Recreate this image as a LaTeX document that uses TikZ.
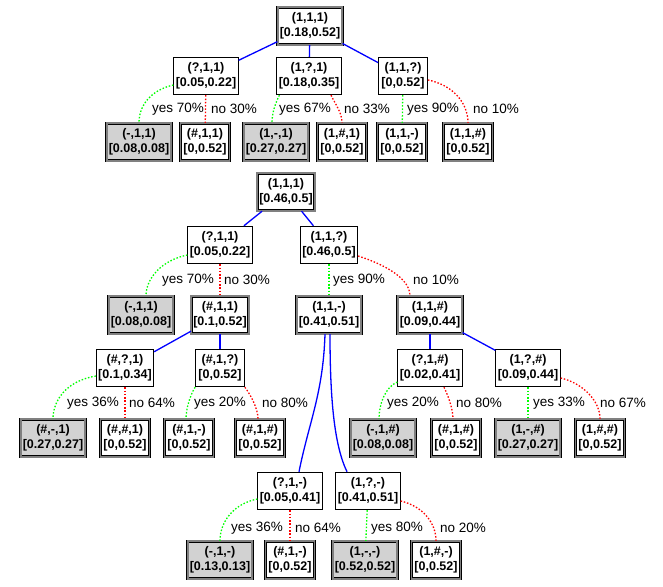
\documentclass[tikz,border=0pt]{standalone}
\usepackage{fontspec}
\setmainfont{Liberation Sans}

\begin{document}
\begin{tikzpicture}[%
    x=1pt, y=-1pt,
    qbox/.style={
      rectangle,
      draw=black,
      line width=0.8pt,
      fill=white,
      align=center,
      inner xsep=2pt,
      inner ysep=5.5pt,
      minimum width=49pt,
      font=\bfseries\fontsize{12.5}{15}\selectfont
    },
    leafbox/.style={
      qbox,
      line width=0.7pt,
      double=gray,
      double distance=1.8pt
    },
    hitbox/.style={
      leafbox,
      fill=gray!35
    },
    lbl/.style={
      anchor=west,
      inner sep=0pt,
      font=\fontsize{13.5}{15}\selectfont
    },
    tree/.style={
      draw=blue,
      line width=1.3pt
    },
    yes/.style={
      draw=green,
      line width=1.3pt,
      dash pattern=on 1.5pt off 1.8pt
    },
    no/.style={
      draw=red,
      line width=1.3pt,
      dash pattern=on 1.5pt off 1.8pt
    }
  ]
  \useasboundingbox (0,0) rectangle (663,586);

  % first tree
  \draw (310,26) node[leafbox] (r1) {(1,1,1)\\{}[0.18,0.52]};
  \draw (206,76) node[qbox] (a1) {(?,1,1)\\{}[0.05,0.22]};
  \draw (309,76) node[qbox] (a2) {(1,?,1)\\{}[0.18,0.35]};
  \draw (403,76) node[qbox] (a3) {(1,1,?)\\{}[0,0.52]};
  \draw (139,142) node[hitbox] (a11) {(-,1,1)\\{}[0.08,0.08]};
  \draw (205,142) node[leafbox] (a12) {(\#,1,1)\\{}[0,0.52]};
  \draw (276,142) node[hitbox] (a21) {(1,-,1)\\{}[0.27,0.27]};
  \draw (342,142) node[leafbox] (a22) {(1,\#,1)\\{}[0,0.52]};
  \draw (402,142) node[leafbox] (a31) {(1,1,-)\\{}[0,0.52]};
  \draw (468,142) node[leafbox] (a32) {(1,1,\#)\\{}[0,0.52]};

  \draw[tree] (r1) -- (a1);
  \draw[tree] (r1) -- (a2);
  \draw[tree] (r1) -- (a3);
  \draw[yes] ([yshift=-9pt]a1.west) .. controls +(-22,5) and +(0,-18) .. (a11.north);
  \draw[no] (a1) -- (a12);
  \draw[yes] ([xshift=3pt]a2.south west) .. controls +(-4,8) and +(0,-10) .. ([xshift=-4pt]a21.north);
  \draw[no] ([xshift=22pt]a2.south) .. controls +(5,10) and +(0,-10) .. (a22.north);
  \draw[yes] (a3) -- (a31);
  \draw[no] ([yshift=-4pt]a3.east) .. controls +(25,5) and +(0,-20) .. (a32.north);

  \node[lbl] (t1) at (152,109) {yes 70\%};
  \node[lbl] (t2) at (211,109) {no 30\%};
  \node[lbl] (t3) at (279,109) {yes 67\%};
  \node[lbl] (t4) at (344,109) {no 33\%};
  \node[lbl] (t5) at (407,109) {yes 90\%};
  \node[lbl] (t6) at (473,109) {no 10\%};

  % second tree
  \draw (286,192) node[leafbox] (r2) {(1,1,1)\\{}[0.46,0.5]};
  \draw (220,245) node[qbox] (b1) {(?,1,1)\\{}[0.05,0.22]};
  \draw (329,245) node[qbox] (b2) {(1,1,?)\\{}[0.46,0.5]};
  \draw (141,315) node[hitbox] (b11) {(-,1,1)\\{}[0.08,0.08]};
  \draw (220,315) node[leafbox] (b12) {(\#,1,1)\\{}[0.1,0.52]};
  \draw (329,315) node[leafbox] (b21) {(1,1,-)\\{}[0.41,0.51]};
  \draw (430,315) node[leafbox] (b22) {(1,1,\#)\\{}[0.09,0.44]};
  \draw (125,368) node[qbox] (c1) {(\#,?,1)\\{}[0.1,0.34]};
  \draw (220,368) node[qbox] (c2) {(\#,1,?)\\{}[0,0.52]};
  \draw (430,368) node[qbox] (c3) {(?,1,\#)\\{}[0.02,0.41]};
  \draw (528,368) node[qbox] (c4) {(1,?,\#)\\{}[0.09,0.44]};
  \draw (53,438) node[hitbox] (c11) {(\#,-,1)\\{}[0.27,0.27]};
  \draw (125,438) node[leafbox] (c12) {(\#,\#,1)\\{}[0,0.52]};
  \draw (189,438) node[leafbox] (c21) {(\#,1,-)\\{}[0,0.52]};
  \draw (260,438) node[leafbox] (c22) {(\#,1,\#)\\{}[0,0.52]};
  \draw (383,438) node[hitbox] (c31) {(-,1,\#)\\{}[0.08,0.08]};
  \draw (456,438) node[leafbox] (c32) {(\#,1,\#)\\{}[0,0.52]};
  \draw (528,438) node[hitbox] (c41) {(1,-,\#)\\{}[0.27,0.27]};
  \draw (600,438) node[leafbox] (c42) {(1,\#,\#)\\{}[0,0.52]};
  \draw (290,491) node[qbox] (d1) {(?,1,-)\\{}[0.05,0.41]};
  \draw (368,491) node[qbox] (d2) {(1,?,-)\\{}[0.41,0.51]};
  \draw (220,560) node[hitbox] (d11) {(-,1,-)\\{}[0.13,0.13]};
  \draw (290,560) node[leafbox] (d12) {(\#,1,-)\\{}[0,0.52]};
  \draw (365,560) node[hitbox] (d21) {(1,-,-)\\{}[0.52,0.52]};
  \draw (436,560) node[leafbox] (d22) {(1,\#,-)\\{}[0,0.52]};

  \draw[tree] (r2) -- (b1);
  \draw[tree] (r2) -- (b2);
  \draw[yes] ([yshift=-10pt]b1.west) .. controls +(-25,5) and +(0,-18) .. ([xshift=5pt]b11.north);
  \draw[no] (b1) -- (b12);
  \draw[yes] (b2) -- (b21);
  \draw[no] ([yshift=-11pt]b2.east) .. controls +(25,8) and +(0,-18) .. ([xshift=-20pt]b22.north);
  \draw[tree] (b12) -- (c1);
  \draw[tree] (b12) -- (c2);
  \draw[tree] (b22) -- (c3);
  \draw[tree] (b22) -- (c4);
  \draw[tree] ([xshift=-4pt]b21.south) .. controls +(-2,60) and +(10,-50) .. ([xshift=9pt]d1.north);
  \draw[tree] ([xshift=1pt]b21.south) .. controls +(0,70) and +(-12,-25) .. ([xshift=-21pt]d2.north);
  \draw[yes] ([yshift=-8pt]c1.west) .. controls +(-30,5) and +(0,-18) .. (c11.north);
  \draw[no] (c1) -- (c12);
  \draw[yes] (c2.south west) .. controls +(-5,8) and +(0,-10) .. ([xshift=-3pt]c21.north);
  \draw[no] (c2.south east) .. controls +(6,8) and +(0,-10) .. ([xshift=-2pt]c22.north);
  \draw[yes] ([yshift=-14pt]c3.west) .. controls +(-12,5) and +(0,-15) .. ([xshift=-4pt]c31.north);
  \draw[no] ([xshift=14pt]c3.south) .. controls +(4,8) and +(0,-10) .. ([xshift=-3pt]c32.north);
  \draw[yes] (c4) -- (c41);
  \draw[no] ([yshift=-10pt]c4.east) .. controls +(22,5) and +(0,-18) .. (c42.north);
  \draw[yes] ([yshift=-8pt]d1.west) .. controls +(-25,5) and +(0,-18) .. (d11.north);
  \draw[no] (d1) -- (d12);
  \draw[yes] (d2) -- (d21);
  \draw[no] ([yshift=-10pt]d2.east) .. controls +(22,5) and +(0,-18) .. (d22.north);

  \node[lbl] (u1) at (162,280) {yes 70\%};
  \node[lbl] (u2) at (224,280) {no 30\%};
  \node[lbl] (u3) at (333,280) {yes 90\%};
  \node[lbl] (u4) at (413,280) {no 10\%};
  \node[lbl] (v1) at (67,403) {yes 36\%};
  \node[lbl] (v2) at (129,403) {no 64\%};
  \node[lbl] (v3) at (194,403) {yes 20\%};
  \node[lbl] (v4) at (262,403) {no 80\%};
  \node[lbl] (v5) at (387,403) {yes 20\%};
  \node[lbl] (v6) at (456,403) {no 80\%};
  \node[lbl] (v7) at (533,403) {yes 33\%};
  \node[lbl] (v8) at (600,403) {no 67\%};
  \node[lbl] (w1) at (231,528) {yes 36\%};
  \node[lbl] (w2) at (295,528) {no 64\%};
  \node[lbl] (w3) at (371,528) {yes 80\%};
  \node[lbl] (w4) at (440,528) {no 20\%};

\end{tikzpicture}
\end{document}
